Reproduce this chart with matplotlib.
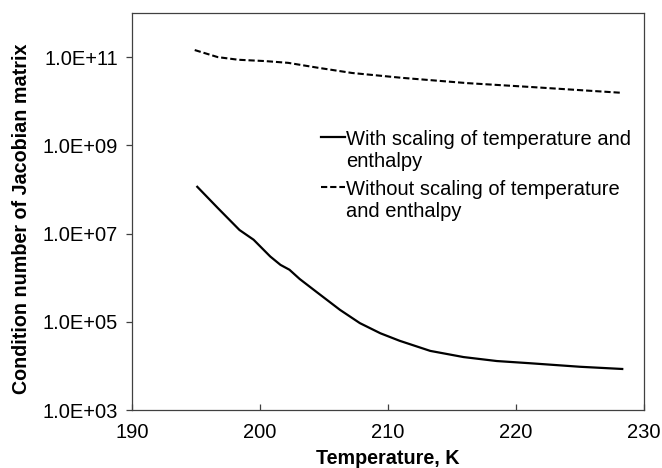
import numpy as np
import matplotlib
matplotlib.use("Agg")
from matplotlib import pyplot as plt

# values (log10 of condition number)
temp_scaled = [195.1, 196.7, 198.4, 199.5, 200.8, 201.6, 202.3, 203.1, 204.4, 206.25,
               207.8, 209.4, 210.9, 213.3, 215.9, 218.5, 221.1, 225.0, 228.3]
log_cond_scaled = [8.06, 7.58, 7.08, 6.86, 6.48, 6.29, 6.18, 5.97, 5.68, 5.27,
                   4.97, 4.74, 4.57, 4.34, 4.20, 4.11, 4.06, 3.98, 3.93]

temp_unscaled = [194.9, 196.7, 198.3, 200.4, 202.2, 204.5, 207.2, 211.1, 216.2, 221.3, 228.3]
log_cond_unscaled = [11.16, 11.00, 10.94, 10.91, 10.87, 10.76, 10.64, 10.53, 10.41, 10.32, 10.19]

ytick_vals = [1e3, 1e5, 1e7, 1e9, 1e11]
ytick_labels = ["1.0E+03", "1.0E+05", "1.0E+07", "1.0E+09", "1.0E+11"]
xtick_vals = [190, 200, 210, 220, 230]

label_scaled = "With scaling of temperature and\nenthalpy"
label_unscaled = "Without scaling of temperature\nand enthalpy"

plt.rcParams['font.family'] = ['Liberation Sans', 'DejaVu Sans']
plt.rcParams['font.size'] = 14.5

fig = plt.figure(figsize=(6.62, 4.68), dpi=100)
ax = fig.add_axes([132/662, 58/468, 512/662, 397/468])

ax.plot(temp_scaled, 10**np.array(log_cond_scaled), color='black', lw=1.6,
        label=label_scaled)
ax.plot(temp_unscaled, 10**np.array(log_cond_unscaled), color='black', lw=1.5,
        ls=(0, (3, 1.4)), label=label_unscaled)

ax.set_yscale('log')
ax.set_xlim(190, 230)
ax.set_ylim(1e3, 1e12)
ax.set_yticks(ytick_vals)
ax.set_yticklabels(ytick_labels)
ax.yaxis.set_minor_locator(matplotlib.ticker.NullLocator())
ax.set_xticks(xtick_vals)

axis_gray = '#404040'
for s in ax.spines.values():
    s.set_color(axis_gray)
    s.set_linewidth(0.9)
ax.tick_params(axis='y', direction='out', length=4.3, width=0.9, color=axis_gray, pad=5.8)
ax.tick_params(axis='x', direction='in', length=4.3, width=0.9, color=axis_gray, pad=9.0)

ax.set_xlabel("Temperature, K", fontweight='bold', fontsize=14.2, labelpad=5.3)
ax.set_ylabel("Condition number of Jacobian matrix", fontweight='bold', fontsize=14.2)
ax.yaxis.set_label_coords(-0.197, 0.481)

leg = ax.legend(loc='upper left', bbox_to_anchor=(0.369, 0.706), frameon=False,
                borderpad=0, borderaxespad=0, handlelength=1.2, handletextpad=0.05,
                labelspacing=0.45, fontsize=14.5)
# keep the legend line next to the first text line
for col in leg._legend_handle_box.get_children():
    for item in col.get_children():
        item.align = "top"

fig.savefig("out.png", dpi=100)
